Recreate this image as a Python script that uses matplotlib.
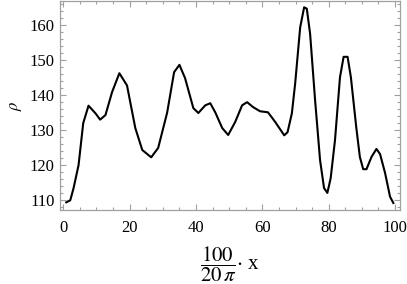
import matplotlib
matplotlib.use("Agg")
import matplotlib.pyplot as plt
from matplotlib.ticker import MultipleLocator

x_vals = [0.9, 2.1, 3.1, 4.6, 6.0, 7.6, 9.7, 11.1, 12.7, 14.7, 16.9, 19.2, 21.7, 23.8,
          26.5, 28.6, 31.3, 33.4, 35.0, 36.7, 39.2, 40.7, 42.8, 44.3, 45.8, 47.9, 49.7,
          51.8, 53.9, 55.4, 57.2, 59.3, 61.7, 63.9, 66.6, 67.6, 68.9, 69.9, 71.4, 72.6,
          73.4, 74.4, 75.9, 77.4, 78.6, 79.6, 80.6, 81.9, 83.4, 84.5, 85.7, 86.7, 88.3,
          89.4, 90.4, 91.4, 92.9, 94.4, 95.5, 97.0, 98.5, 99.5]
rho_vals = [109.3, 109.9, 113.4, 120.0, 132.0, 137.0, 134.8, 133.0, 134.3, 140.9, 146.3,
            142.8, 130.6, 124.3, 122.2, 124.9, 135.0, 146.6, 148.7, 144.9, 136.3, 134.9,
            137.1, 137.7, 135.1, 130.6, 128.6, 132.3, 137.1, 138.0, 136.6, 135.4, 135.1,
            132.3, 128.5, 129.4, 134.8, 143.4, 159.4, 165.2, 164.8, 157.6, 138.6, 121.4,
            113.4, 112.0, 116.2, 127.1, 145.1, 151.0, 151.0, 145.1, 130.9, 122.3, 118.8,
            118.8, 122.3, 124.6, 123.1, 117.7, 110.9, 109.1]

x_major = [0, 20, 40, 60, 80, 100]
y_major = [110, 120, 130, 140, 150, 160]

plt.rcParams['mathtext.fontset'] = 'stix'
plt.rcParams['font.family'] = ['Liberation Serif', 'DejaVu Serif']

fig = plt.figure(figsize=(4.07, 2.84), dpi=100)
ax = fig.add_axes([60/407, 1 - 210/284, 340/407, 209/284])
ax.plot(x_vals, rho_vals, color='black', lw=1.5)

ax.set_xlim(-1, 101.5)
ax.set_ylim(107.1, 167)
ax.set_xticks(x_major)
ax.set_yticks(y_major)
ax.xaxis.set_minor_locator(MultipleLocator(5))
ax.yaxis.set_minor_locator(MultipleLocator(2))

frame_col = '#a0a0a0'
for s in ax.spines.values():
    s.set_color(frame_col)
    s.set_linewidth(0.9)
ax.tick_params(which='both', direction='in', top=True, right=True, color=frame_col,
               labelsize=12, labelcolor='black', width=0.8)
ax.tick_params(which='major', length=4)
ax.tick_params(axis='x', which='major', pad=7)
ax.tick_params(axis='y', which='major', pad=4)
ax.tick_params(which='minor', length=2)

ax.set_ylabel(r'$\rho$', fontsize=12, labelpad=4)
ax.set_xlabel(r'$\dfrac{100}{20\,\pi}$$\cdot$ x', fontsize=15, labelpad=6)

fig.savefig('out.png', dpi=100)
